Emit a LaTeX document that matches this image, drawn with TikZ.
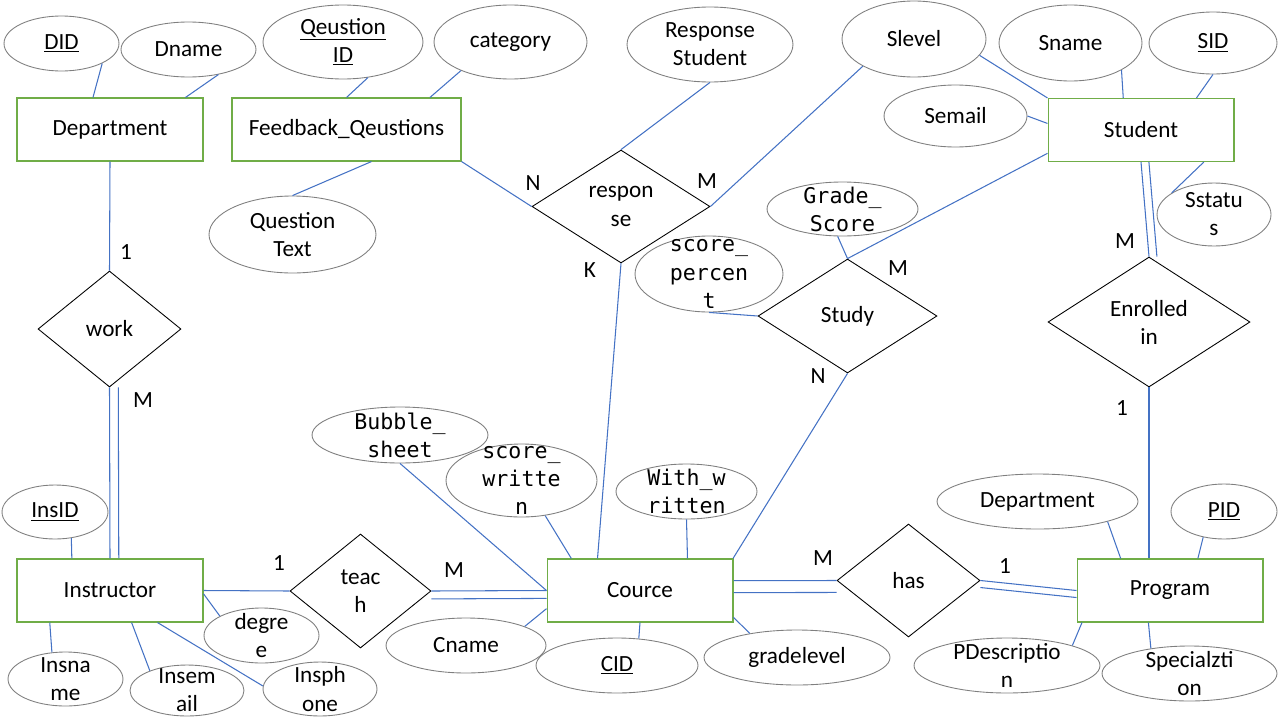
\documentclass[tikz,border=0pt]{standalone}
\usepackage{fontspec}
\setmainfont{Carlito}
\newfontfamily\codefont{DejaVu Sans Mono}
\usetikzlibrary{shapes.geometric}

\definecolor{entgreen}{HTML}{70AD47}
\definecolor{linkblue}{HTML}{4472C4}
\definecolor{attrgray}{HTML}{7F7F7F}

\tikzset{
	ent/.style={draw=entgreen, line width=0.6pt, minimum width=3.72cm, minimum height=1.26cm, font=\fontsize{13.2}{16}\selectfont},
	rel/.style 2 args={diamond, draw, line width=0.5pt, inner sep=0pt, minimum width=#1, minimum height=#2},
	attr/.style 2 args={ellipse, draw=attrgray, line width=0.5pt, inner sep=0pt, minimum width=#1, minimum height=#2},
	txt/.style={font=\fontsize{13.2}{16}\selectfont, align=center},
	code/.style={font=\codefont\fontsize{12.3}{16}\selectfont, align=center},
	card/.style={font=\fontsize{13.2}{16}\selectfont},
	conn/.style={draw=linkblue, line width=0.6pt}
}

\begin{document}
\begin{tikzpicture}[x=0.02cm, y=-0.02cm]
	\useasboundingbox (0,0) rectangle (1280,720);

	% entities
	\node[ent] (dept) at (110,129.5) {Department};
	\node[ent, minimum width=4.58cm] (fbq) at (346.5,129.5) {Feedback\_Qeustions};
	\node[ent] (stu) at (1141,130) {Student};
	\node[ent] (inst) at (110,590.5) {Instructor};
	\node[ent] (crs) at (640,590.5) {Cource};
	\node[ent] (prog) at (1170,590.5) {Program};

	% relationships
	\node[rel={2.86cm}{2.32cm}, label={[txt]center:work}] (wk) at (109.5,329) {};
	\node[rel={3.56cm}{2.26cm}, label={[txt]center:{respon\\se}}] (resp) at (621,206.5) {};
	\node[rel={3.58cm}{2.28cm}, label={[txt]center:Study}] (study) at (847.5,316) {};
	\node[rel={4.04cm}{2.60cm}, label={[txt]center:{Enrolled\\in}}] (enr) at (1149,322) {};
	\node[rel={2.82cm}{2.28cm}, label={[txt]center:{teac\\h}}] (teach) at (360.5,591) {};
	\node[rel={2.86cm}{2.26cm}, label={[txt]center:has}] (has) at (908.5,580.5) {};

	% attributes
	\node[attr={2.30cm}{1.10cm}, label={[txt]center:\underline{DID}}] (did) at (61.5,43.5) {};
	\node[attr={2.70cm}{1.10cm}, label={[txt]center:Dname}] (dname) at (188.5,49.5) {};
	\node[attr={3.20cm}{1.48cm}, label={[txt]center:{\underline{Qeustion}\\\underline{ID}}}] (qid) at (343,42) {};
	\node[attr={3.06cm}{1.48cm}, label={[txt]center:category}] (cat) at (510.5,42) {};
	\node[attr={3.34cm}{1.54cm}, label={[txt]center:{Question\\Text}}] (qtext) at (292.5,234.5) {};
	\node[attr={3.32cm}{1.50cm}, label={[txt]center:{Response\\Student}}] (rstu) at (710,44.5) {};
	\node[attr={2.88cm}{1.52cm}, label={[txt]center:Slevel}] (slevel) at (914,39) {};
	\node[attr={2.86cm}{1.52cm}, label={[txt]center:Sname}] (sname) at (1070.5,43) {};
	\node[attr={2.56cm}{1.24cm}, label={[txt]center:\underline{SID}}] (sid) at (1213,43) {};
	\node[attr={2.86cm}{1.24cm}, label={[txt]center:Semail}] (semail) at (955.5,116) {};
	\node[attr={2.28cm}{1.26cm}, label={[txt]center:{Sstatu\\s}}] (sstat) at (1214,214.5) {};
	\node[attr={3.02cm}{1.08cm}, label={[code]center:{Grade\_\\Score}}] (gscore) at (842.5,209) {};
	\node[attr={2.96cm}{1.52cm}, label={[code]center:{score\_\\percen\\t}}] (spct) at (709,274) {};
	\node[attr={3.52cm}{1.12cm}, label={[code]center:{Bubble\_\\sheet}}] (bubble) at (400,435) {};
	\node[attr={3.02cm}{1.46cm}, label={[code]center:{score\_\\writte\\n}}] (swrit) at (521.5,480.5) {};
	\node[attr={2.82cm}{1.10cm}, label={[code]center:{With\_w\\ritten}}] (withw) at (686.5,491.5) {};
	\node[attr={3.20cm}{1.10cm}, label={[txt]center:Cname}] (cname) at (466,645.5) {};
	\node[attr={3.24cm}{1.10cm}, label={[txt]center:\underline{CID}}] (cid) at (617,665.5) {};
	\node[attr={3.72cm}{1.10cm}, label={[txt]center:gradelevel}] (glevel) at (797,657.5) {};
	\node[attr={2.12cm}{1.08cm}, label={[txt]center:\underline{InsID}}] (insid) at (55,512) {};
	\node[attr={2.30cm}{1.08cm}, label={[txt]center:{Insna\\me}}] (insname) at (65.5,679) {};
	\node[attr={2.28cm}{1.02cm}, label={[txt]center:{Insem\\ail}}] (insemail) at (187,690.5) {};
	\node[attr={2.30cm}{1.10cm}, label={[txt]center:{degre\\e}}] (degree) at (261.5,635.5) {};
	\node[attr={2.28cm}{1.08cm}, label={[txt]center:{Insph\\one}}] (insphone) at (320,689) {};
	\node[attr={4.02cm}{1.10cm}, label={[txt]center:Department}] (pdept) at (1037.5,501.5) {};
	\node[attr={2.12cm}{1.10cm}, label={[txt]center:\underline{PID}}] (pid) at (1224,511.5) {};
	\node[attr={3.72cm}{1.10cm}, label={[txt]center:{PDescriptio\\n}}] (pdesc) at (1007,665.5) {};
	\node[attr={3.50cm}{1.10cm}, label={[txt]center:{Specialzti\\on}}] (spec) at (1189.5,673.5) {};

	% cardinalities
	\node[card] (c1) at (126,252) {1};
	\node[card] (c2) at (143,400) {M};
	\node[card] (c3) at (533,183) {N};
	\node[card] (c4) at (707,181) {M};
	\node[card] (c5) at (590,270) {K};
	\node[card] (c6) at (898,268) {M};
	\node[card] (c7) at (818,376) {N};
	\node[card] (c8) at (1125,241) {M};
	\node[card] (c9) at (1122,408) {1};
	\node[card] (c10) at (279,563) {1};
	\node[card] (c11) at (454,570) {M};
	\node[card] (c12) at (823,558) {M};
	\node[card] (c13) at (1005,566) {1};

	% Department and Feedback_Qeustions
	\draw[conn] (did.-26) -- (dept.118);
	\draw[conn] (dname.-40) -- (dept.23);
	\draw[conn] (dept.south) -- (wk.north);
	\draw[conn] (qid.-55) -- (fbq.north);
	\draw[conn] (cat.-150) -- (fbq.21);
	\draw[conn] (qtext.north) -- (fbq.-52);
	\draw[conn] (fbq.south east) -- (resp.west);

	% response
	\draw[conn] (rstu.south) -- (resp.north);
	\draw[conn] (slevel.-152) -- (resp.east);
	\draw[conn] (resp.south) -- (crs.143);

	% Student
	\draw[conn] (slevel.-14) -- (stu.north west);
	\draw[conn] (sname.-28) -- (stu.119);
	\draw[conn] (sid.south) -- (stu.30);
	\draw[conn] (semail.east) -- (stu.176);
	\draw[conn] (sstat.153) -- (stu.-27);
	\draw[conn] (stu.194) -- (study.north);
	\draw[conn] (stu.south) -- (enr.north);
	\draw[conn] ([xshift=4.5pt]stu.south) -- ([xshift=4.5pt]enr.north);
	\draw[conn] (enr.south) -- (enr.south |- prog.north);

	% Study
	\draw[conn] (gscore.-100) -- (study.north);
	\draw[conn] (spct.south) -- (study.west);
	\draw[conn] (study.south) -- (crs.19);

	% Instructor
	\draw[conn] (wk.south) -- (inst.north);
	\draw[conn] ([xshift=5pt]wk.south) -- ([xshift=5pt]inst.north);
	\draw[conn] (insid.-58) -- (inst.140);
	\draw[conn] (inst.east) -- (teach.west);
	\draw[conn] (inst.-2) -- (degree.155);
	\draw[conn] (inst.-152) -- (insname.117);
	\draw[conn] (inst.-56) -- (insemail.152);
	\draw[conn] (inst.-34) -- (insphone.177);

	% Cource
	\draw[conn] (teach.east) -- (crs.west);
	\draw[conn] ([yshift=-4.5pt]teach.east) -- ([yshift=-4.5pt]crs.west);
	\draw[conn] (bubble.south) -- (crs.west);
	\draw[conn] (swrit.-56) -- (crs.155);
	\draw[conn] (withw.south) -- (crs.34);
	\draw[conn] (cname.18) -- (crs.191);
	\draw[conn] (cid.51) -- (crs.south);
	\draw[conn] (crs.-16) -- (glevel.153);
	\draw[conn] (crs.6) -- (has.west);
	\draw[conn] ([yshift=-6.8pt]crs.6) -- ([yshift=-6.8pt]has.west);

	% Program
	\draw[conn] (has.east) -- (prog.west);
	\draw[conn] ([yshift=-4pt]has.east) -- ([yshift=-4pt]prog.west);
	\draw[conn] (pdept.-16) -- (prog.147);
	\draw[conn] (pid.-129) -- (prog.49);
	\draw[conn] (pdesc.17) -- (prog.-160);
	\draw[conn] (spec.147) -- (prog.-124);
\end{tikzpicture}
\end{document}
